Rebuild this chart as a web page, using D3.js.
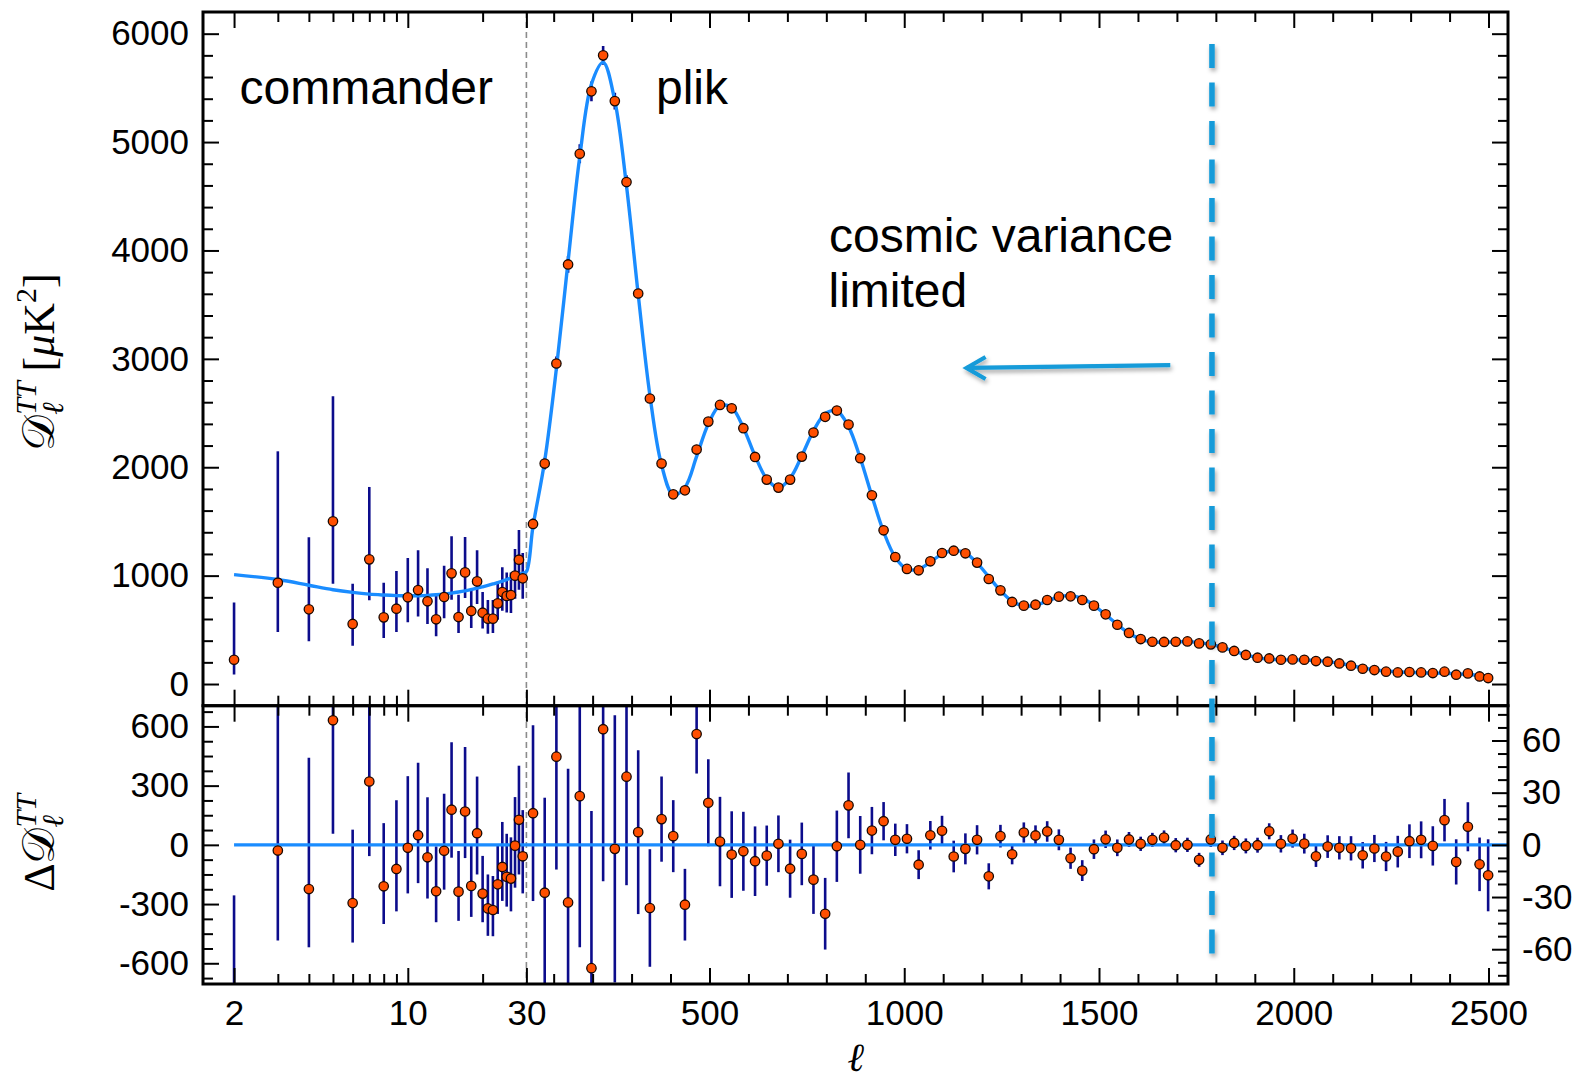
<!DOCTYPE html>
<html>
<head>
<meta charset="utf-8">
<script src="https://cdn.jsdelivr.net/npm/d3@7"></script>
<style>
  body { margin: 0; background: #fff; }
  svg { display: block; }
</style>
</head>
<body>
<svg id="chart" width="1578" height="1081"></svg>
<script>
// ---------- low multipoles (commander), 2 <= l <= 29 ----------
const lowEll   = [2,3,4,5,6,7,8,9,10,11,12,13,14,15,16,17,18,19,20,21,22,23,24,25,26,27,28,29];
const lowDl    = [224,935,689,1501,554,1150,615,695,800,867,763,597,803,1021,618,1030,674,947,658,603,603,744,849,812,821,1000,1147,975];
const lowDlLo  = [89,480,394,926,354,772,424,480,569,624,554,440,606,778,470,794,517,738,513,464,470,594,677,661,655,787,870,787];
const lowDlHi  = [753,2147,1354,2655,926,1818,935,1043,1163,1234,1067,824,1092,1363,824,1357,883,1234,849,775,775,944,1077,1030,1030,1246,1421,1209];
const lowResid = [-785,-29,-224,631,-295,321,-210,-122,-15,49,-63,-235,-30,178,-237,169,-208,59,-247,-322,-330,-200,-112,-162,-171,-4,127,-58];

// ---------- high multipoles (plik), binned ----------
const highEll = [47,77,107,137,167,197,227,257,287,317,
                 347,377,407,437,467,497,527,557,587,617,
                 647,677,707,737,767,797,827,857,887,917,
                 947,977,1007,1037,1067,1097,1127,1157,1187,1217,
                 1247,1277,1307,1337,1367,1397,1427,1457,1487,1517,
                 1547,1577,1607,1637,1667,1697,1727,1757,1787,1817,
                 1847,1877,1907,1937,1967,1997,2027,2057,2087,2117,
                 2147,2177,2207,2237,2267,2297,2327,2357,2387,2417,
                 2447,2477,2499];
const highDl = [1477,2034,2957,3871,4892,5468,5800,5378,4631,3603,
                2634,2034,1750,1787,2163,2421,2575,2544,2360,2095,
                1886,1812,1886,2098,2320,2465,2523,2394,2083,1741,
                1418,1172,1062,1049,1132,1209,1230,1206,1120,969,
                864,757,723,732,775,806,809,775,723,643,
                547,471,415,390,388,390,393,375,366,338,
                305,268,243,236,224,227,224,212,206,190,
                169,141,129,114,107,111,107,101,114,86,
                98,70,55];
const highErr = [50.5,54.6,64.9,76.8,86.8,90.3,87.4,76.8,62.4,47.1,
                 33.8,24.5,20.7,20.6,22.7,25.0,25.7,24.9,22.7,20.0,
                 17.3,16.3,16.7,18.0,19.7,20.6,20.5,18.9,16.6,13.6,
                 11.0,9.3,8.4,8.3,8.2,8.6,9.1,8.9,8.4,7.5,
                 6.5,5.8,5.8,5.8,5.9,6.0,6.1,6.0,5.6,5.0,
                 4.8,4.3,4.1,4.0,4.1,4.1,4.1,4.0,4.3,4.2,
                 4.1,4.3,4.3,4.6,5.0,5.2,5.7,6.1,6.5,6.7,
                 7.0,7.6,7.8,8.4,9.1,9.7,10.6,11.3,12.2,13.0,
                 14.1,15.4,20.7];
const highResid = [18.2,-27.5,50.7,-33.1,28.0,-70.9,66.5,-2.3,39.2,7.3,
                   -36.3,14.8,5.0,-34.4,63.7,24.2,1.9,-5.6,-3.7,-9.4,
                   -6.2,0.6,-13.7,-5.2,-20.0,-39.6,-0.8,22.7,0.0,8.2,
                   13.6,2.9,3.5,-11.4,5.5,8.1,-6.7,-2.3,2.9,-18.1,
                   5.0,-5.4,7.1,5.4,7.7,2.9,-7.7,-14.8,-2.5,3.2,
                   -1.7,3.1,0.6,2.9,4.2,-0.2,0.0,-8.6,3.1,-1.7,
                   1.1,-0.6,-0.2,7.8,0.6,3.6,0.7,-6.6,-1.0,-1.7,
                   -2.0,-6.0,-2.1,-6.7,-3.9,2.1,2.9,-0.6,14.2,-9.8,
                   10.4,-11.2,-17.5];

// ---------- best-fit model spectrum ----------
const theoryEll = [2,3,4,5,6,7,8,9,10,11,12,13,14,15,16,17,18,19,20,21,22,23,24,25,26,27,28,29,30,
                   47,77,107,137,167,197,227,257,287,317,
                   347,377,407,437,467,497,527,557,587,617,
                   647,677,707,737,767,797,827,857,887,917,
                   947,977,1007,1037,1067,1097,1127,1157,1187,1217,
                   1247,1277,1307,1337,1367,1397,1427,1457,1487,1517,
                   1547,1577,1607,1637,1667,1697,1727,1757,1787,1817,
                   1847,1877,1907,1937,1967,1997,2027,2057,2087,2117,
                   2147,2177,2207,2237,2267,2297,2327,2357,2387,2417,
                   2447,2477,2508];
const theoryDl = [1009,964,911,870,845,829,821,816,814,815,818,823,830,839,849,860,872,884,897,910,923,936,950,964,978,993,1008,1023,1038,
                  1455,2060,2910,3900,4865,5535,5735,5380,4595,3595,
                  2665,2020,1745,1815,2100,2400,2570,2550,2365,2105,
                  1893,1812,1898,2105,2335,2495,2520,2375,2085,1735,
                  1405,1170,1060,1060,1125,1200,1232,1208,1115,990,
                  862,763,720,727,766,803,815,790,726,640,
                  550,468,414,388,385,389,391,382,364,339,
                  304,269,244,229,223,223,222,218,207,192,
                  172,148,132,120,111,108,104,101,99,95,
                  88,80,70];

// ---------- axis ticks and labels ----------
const xMajorLog = [2, 10, 30];
const xMinorLog = [3, 4, 5, 6, 7, 8, 9, 20];
const xMajorLin = [500, 1000, 1500, 2000, 2500];
const yMajorTop = [0, 1000, 2000, 3000, 4000, 5000, 6000];
const yMajorResLow = [-600, -300, 0, 300, 600];
const yMajorResHigh = [-60, -30, 0, 30, 60];
const splitEll = 30;          // commander / plik boundary
const cvLimitEll = 1790;      // cosmic-variance limit marker

// ---------- layout ----------
const W = 1578, H = 1081;
const F = { left: 203, right: 1508, top: 12, split: 705.7, bottom: 984 };
const FONT = "'Liberation Sans', Arial, Helvetica, sans-serif";
const SERIF = "'Liberation Serif', 'Times New Roman', 'DejaVu Serif', serif";

const xLog = d3.scaleLog().domain([1.5, 30]).range([F.left, 526.4]);
const xLin = d3.scaleLinear().domain([30, 2550]).range([526.4, F.right]);
const x = l => (l <= 30 ? xLog(l) : xLin(l));
const yTop = d3.scaleLinear().domain([-200, 6200]).range([F.split, F.top]);
const yResLow = d3.scaleLinear().domain([-705, 705]).range([F.bottom, F.split]);
const yResHigh = d3.scaleLinear().domain([-80, 80]).range([F.bottom, F.split]);

const COL = {
  point: '#ff4f00',
  pointStroke: '#1a0800',
  err: '#0c0c8c',
  model: '#1a8cff',
  marker: '#139bd9'
};

const svg = d3.select('#chart');
const defs = svg.append('defs');
defs.append('clipPath').attr('id', 'clipTop').append('rect')
  .attr('x', F.left).attr('y', F.top).attr('width', F.right - F.left).attr('height', F.split - F.top);
defs.append('clipPath').attr('id', 'clipBot').append('rect')
  .attr('x', F.left).attr('y', F.split).attr('width', F.right - F.left).attr('height', F.bottom - F.split);
const shadow = defs.append('filter').attr('id', 'shadow')
  .attr('filterUnits', 'userSpaceOnUse').attr('x', 0).attr('y', 0).attr('width', W).attr('height', H);
shadow.append('feDropShadow').attr('dx', 1.5).attr('dy', 3).attr('stdDeviation', 2.2)
  .attr('flood-color', '#000').attr('flood-opacity', 0.35);

svg.append('rect').attr('width', W).attr('height', H).attr('fill', '#fff');

// ---------- data records ----------
const low = lowEll.map((l, i) => ({ l, v: lowDl[i], lo: lowDlLo[i], hi: lowDlHi[i], r: lowResid[i] }));
const high = highEll.map((l, i) => ({ l, v: highDl[i], s: highErr[i], r: highResid[i] }));
const model = theoryEll.map((l, i) => ({ l, v: theoryDl[i] }));

// ---------- commander / plik divider ----------
svg.append('line')
  .attr('x1', x(splitEll)).attr('x2', x(splitEll))
  .attr('y1', F.top).attr('y2', F.bottom)
  .attr('stroke', '#8c8c8c').attr('stroke-width', 1.6).attr('stroke-dasharray', '6,4');

// ---------- upper panel ----------
const gTop = svg.append('g').attr('clip-path', 'url(#clipTop)');
gTop.selectAll('line.errLow').data(low).join('line')
  .attr('x1', d => x(d.l)).attr('x2', d => x(d.l))
  .attr('y1', d => yTop(d.lo)).attr('y2', d => yTop(d.hi))
  .attr('stroke', COL.err).attr('stroke-width', 2.6);
gTop.selectAll('line.errHigh').data(high).join('line')
  .attr('x1', d => x(d.l)).attr('x2', d => x(d.l))
  .attr('y1', d => yTop(d.v - d.s)).attr('y2', d => yTop(d.v + d.s))
  .attr('stroke', COL.err).attr('stroke-width', 2.6);

const modelLine = d3.line().x(d => x(d.l)).y(d => yTop(d.v)).curve(d3.curveCatmullRom.alpha(0.5));
gTop.append('path').datum(model).attr('d', modelLine)
  .attr('fill', 'none').attr('stroke', COL.model).attr('stroke-width', 3.4);

gTop.selectAll('circle.pt').data(low.concat(high)).join('circle')
  .attr('cx', d => x(d.l)).attr('cy', d => yTop(d.v)).attr('r', 4.7)
  .attr('fill', COL.point).attr('stroke', COL.pointStroke).attr('stroke-width', 1.3);

// ---------- residual panel ----------
const gBot = svg.append('g').attr('clip-path', 'url(#clipBot)');
gBot.selectAll('line.rLow').data(low).join('line')
  .attr('x1', d => x(d.l)).attr('x2', d => x(d.l))
  .attr('y1', d => yResLow(d.r - (d.v - d.lo))).attr('y2', d => yResLow(d.r + (d.hi - d.v)))
  .attr('stroke', COL.err).attr('stroke-width', 2.6);
gBot.selectAll('line.rHigh').data(high).join('line')
  .attr('x1', d => x(d.l)).attr('x2', d => x(d.l))
  .attr('y1', d => yResHigh(d.r - d.s)).attr('y2', d => yResHigh(d.r + d.s))
  .attr('stroke', COL.err).attr('stroke-width', 2.6);
gBot.append('line')
  .attr('x1', x(2)).attr('x2', F.right).attr('y1', yResLow(0)).attr('y2', yResLow(0))
  .attr('stroke', COL.model).attr('stroke-width', 3.2);
gBot.selectAll('circle.rl').data(low).join('circle')
  .attr('cx', d => x(d.l)).attr('cy', d => yResLow(d.r)).attr('r', 4.7)
  .attr('fill', COL.point).attr('stroke', COL.pointStroke).attr('stroke-width', 1.3);
gBot.selectAll('circle.rh').data(high).join('circle')
  .attr('cx', d => x(d.l)).attr('cy', d => yResHigh(d.r)).attr('r', 4.7)
  .attr('fill', COL.point).attr('stroke', COL.pointStroke).attr('stroke-width', 1.3);

// ---------- frames ----------
[[F.top, F.split], [F.split, F.bottom]].forEach(([a, b]) => {
  svg.append('rect').attr('x', F.left).attr('y', a).attr('width', F.right - F.left).attr('height', b - a)
    .attr('fill', 'none').attr('stroke', '#000').attr('stroke-width', 3);
});

// ---------- axes (ticks point inward) ----------
const MAJ = 16, MIN = 10;
function edge(axisFn, scale, translate, values, size, labelled, pad) {
  const ax = axisFn(scale).tickValues(values).tickSizeInner(-size).tickSizeOuter(0)
    .tickPadding(pad || 14).tickFormat(labelled ? (d => String(d)) : (() => ''));
  const g = svg.append('g').attr('transform', translate).call(ax);
  g.select('.domain').remove();
  g.selectAll('line').attr('stroke', '#000').attr('stroke-width', 2);
  g.attr('font-family', FONT).attr('font-size', 35);
  g.selectAll('text').attr('fill', '#000');
  return g;
}
const xMinorLin = d3.range(100, 2501, 100).filter(v => !xMajorLin.includes(v));
const edgesX = [
  { y: F.top, fn: d3.axisTop },
  { y: F.split, fn: d3.axisBottom },
  { y: F.split, fn: d3.axisTop },
  { y: F.bottom, fn: d3.axisBottom }
];
edgesX.forEach((e, i) => {
  const lab = i === 3;
  const t = `translate(0,${e.y})`;
  edge(e.fn, xLog, t, xMajorLog, MAJ, lab, 15.7);
  edge(e.fn, xLog, t, xMinorLog, MIN, false);
  edge(e.fn, xLin, t, xMajorLin, MAJ, lab, 15.7);
  edge(e.fn, xLin, t, xMinorLin, MIN, false);
});

const yMinorTop = d3.range(200, 6001, 200).filter(v => !yMajorTop.includes(v));
edge(d3.axisLeft, yTop, `translate(${F.left},0)`, yMajorTop, MAJ, true);
edge(d3.axisLeft, yTop, `translate(${F.left},0)`, yMinorTop, MIN, false);
edge(d3.axisRight, yTop, `translate(${F.right},0)`, yMajorTop, MAJ, false);
edge(d3.axisRight, yTop, `translate(${F.right},0)`, yMinorTop, MIN, false);

const yMinorResLow = d3.range(-675, 676, 75).filter(v => !yMajorResLow.includes(v));
edge(d3.axisLeft, yResLow, `translate(${F.left},0)`, yMajorResLow, MAJ, true);
edge(d3.axisLeft, yResLow, `translate(${F.left},0)`, yMinorResLow, MIN, false);
const yMinorResHigh = d3.range(-75, 76, 7.5).filter(v => !yMajorResHigh.includes(v));
edge(d3.axisRight, yResHigh, `translate(${F.right},0)`, yMajorResHigh, MAJ, true);
edge(d3.axisRight, yResHigh, `translate(${F.right},0)`, yMinorResHigh, MIN, false);

// ---------- cosmic variance marker and arrow ----------
svg.append('line')
  .attr('x1', x(cvLimitEll)).attr('x2', x(cvLimitEll)).attr('y1', 44).attr('y2', 962)
  .attr('stroke', COL.marker).attr('stroke-width', 5.5).attr('stroke-dasharray', '24,14.5')
  .attr('filter', 'url(#shadow)');

const arrowTail = [x(1683), yTop(2943)], arrowTip = [x(1160), yTop(2916)];
const arrowG = svg.append('g').attr('filter', 'url(#shadow)')
  .attr('stroke', COL.marker).attr('stroke-width', 4.2).attr('fill', 'none');
arrowG.append('line').attr('x1', arrowTail[0]).attr('y1', arrowTail[1]).attr('x2', arrowTip[0]).attr('y2', arrowTip[1]);
arrowG.append('path').attr('stroke-linejoin', 'miter')
  .attr('d', `M${arrowTip[0] + 19},${arrowTip[1] - 11} L${arrowTip[0]},${arrowTip[1]} L${arrowTip[0] + 19},${arrowTip[1] + 11}`);

// ---------- text annotations ----------
const ann = svg.append('g').attr('font-family', FONT).attr('font-size', 48).attr('fill', '#000');
ann.append('text').attr('x', 239.5).attr('y', 103.7).text('commander');
ann.append('text').attr('x', 656).attr('y', 103.7).text('plik');
ann.append('text').attr('x', 829).attr('y', 251.7).text('cosmic variance');
ann.append('text').attr('x', 828.5).attr('y', 307.3).text('limited');

// ---------- axis titles ----------
function mathLabel(cx, cy, pieces) {
  const g = svg.append('g').attr('transform', `translate(${cx},${cy}) rotate(-90)`)
    .attr('font-family', SERIF).attr('fill', '#000');
  let cur = 0, subStart = 0, subEnd = 0;
  pieces.forEach(p => {
    const start = p.stack === 'sup' ? subStart : cur;
    const t = g.append('text').attr('x', start).attr('y', p.dy || 0)
      .attr('font-size', p.size).attr('font-style', p.italic ? 'italic' : 'normal').text(p.t);
    const w = t.node().getComputedTextLength();
    if (p.stack === 'sub') { subStart = start; subEnd = start + w; cur = subEnd; }
    else if (p.stack === 'sup') { cur = Math.max(subEnd, start + w) + (p.gap || 0); }
    else cur = start + w + (p.gap || 0);
  });
  g.selectAll('text').attr('x', function () { return +this.getAttribute('x') - cur / 2; });
}
mathLabel(54, 362, [
  { t: '𝒟', size: 45 },
  { t: 'ℓ', size: 30, italic: true, dy: 9, stack: 'sub' },
  { t: 'TT', size: 30, italic: true, dy: -18, stack: 'sup', gap: 10 },
  { t: '[', size: 44 },
  { t: 'μ', size: 44, italic: true },
  { t: 'K', size: 44 },
  { t: '2', size: 30, dy: -18 },
  { t: ']', size: 44 }
]);
mathLabel(54, 843, [
  { t: 'Δ', size: 44 },
  { t: '𝒟', size: 45 },
  { t: 'ℓ', size: 30, italic: true, dy: 9, stack: 'sub' },
  { t: 'TT', size: 30, italic: true, dy: -18, stack: 'sup' }
]);

svg.append('text').attr('x', (F.left + F.right) / 2).attr('y', 1071)
  .attr('text-anchor', 'middle').attr('font-family', SERIF).attr('font-style', 'italic')
  .attr('font-size', 40).attr('fill', '#000').text('ℓ');
</script>
</body>
</html>
